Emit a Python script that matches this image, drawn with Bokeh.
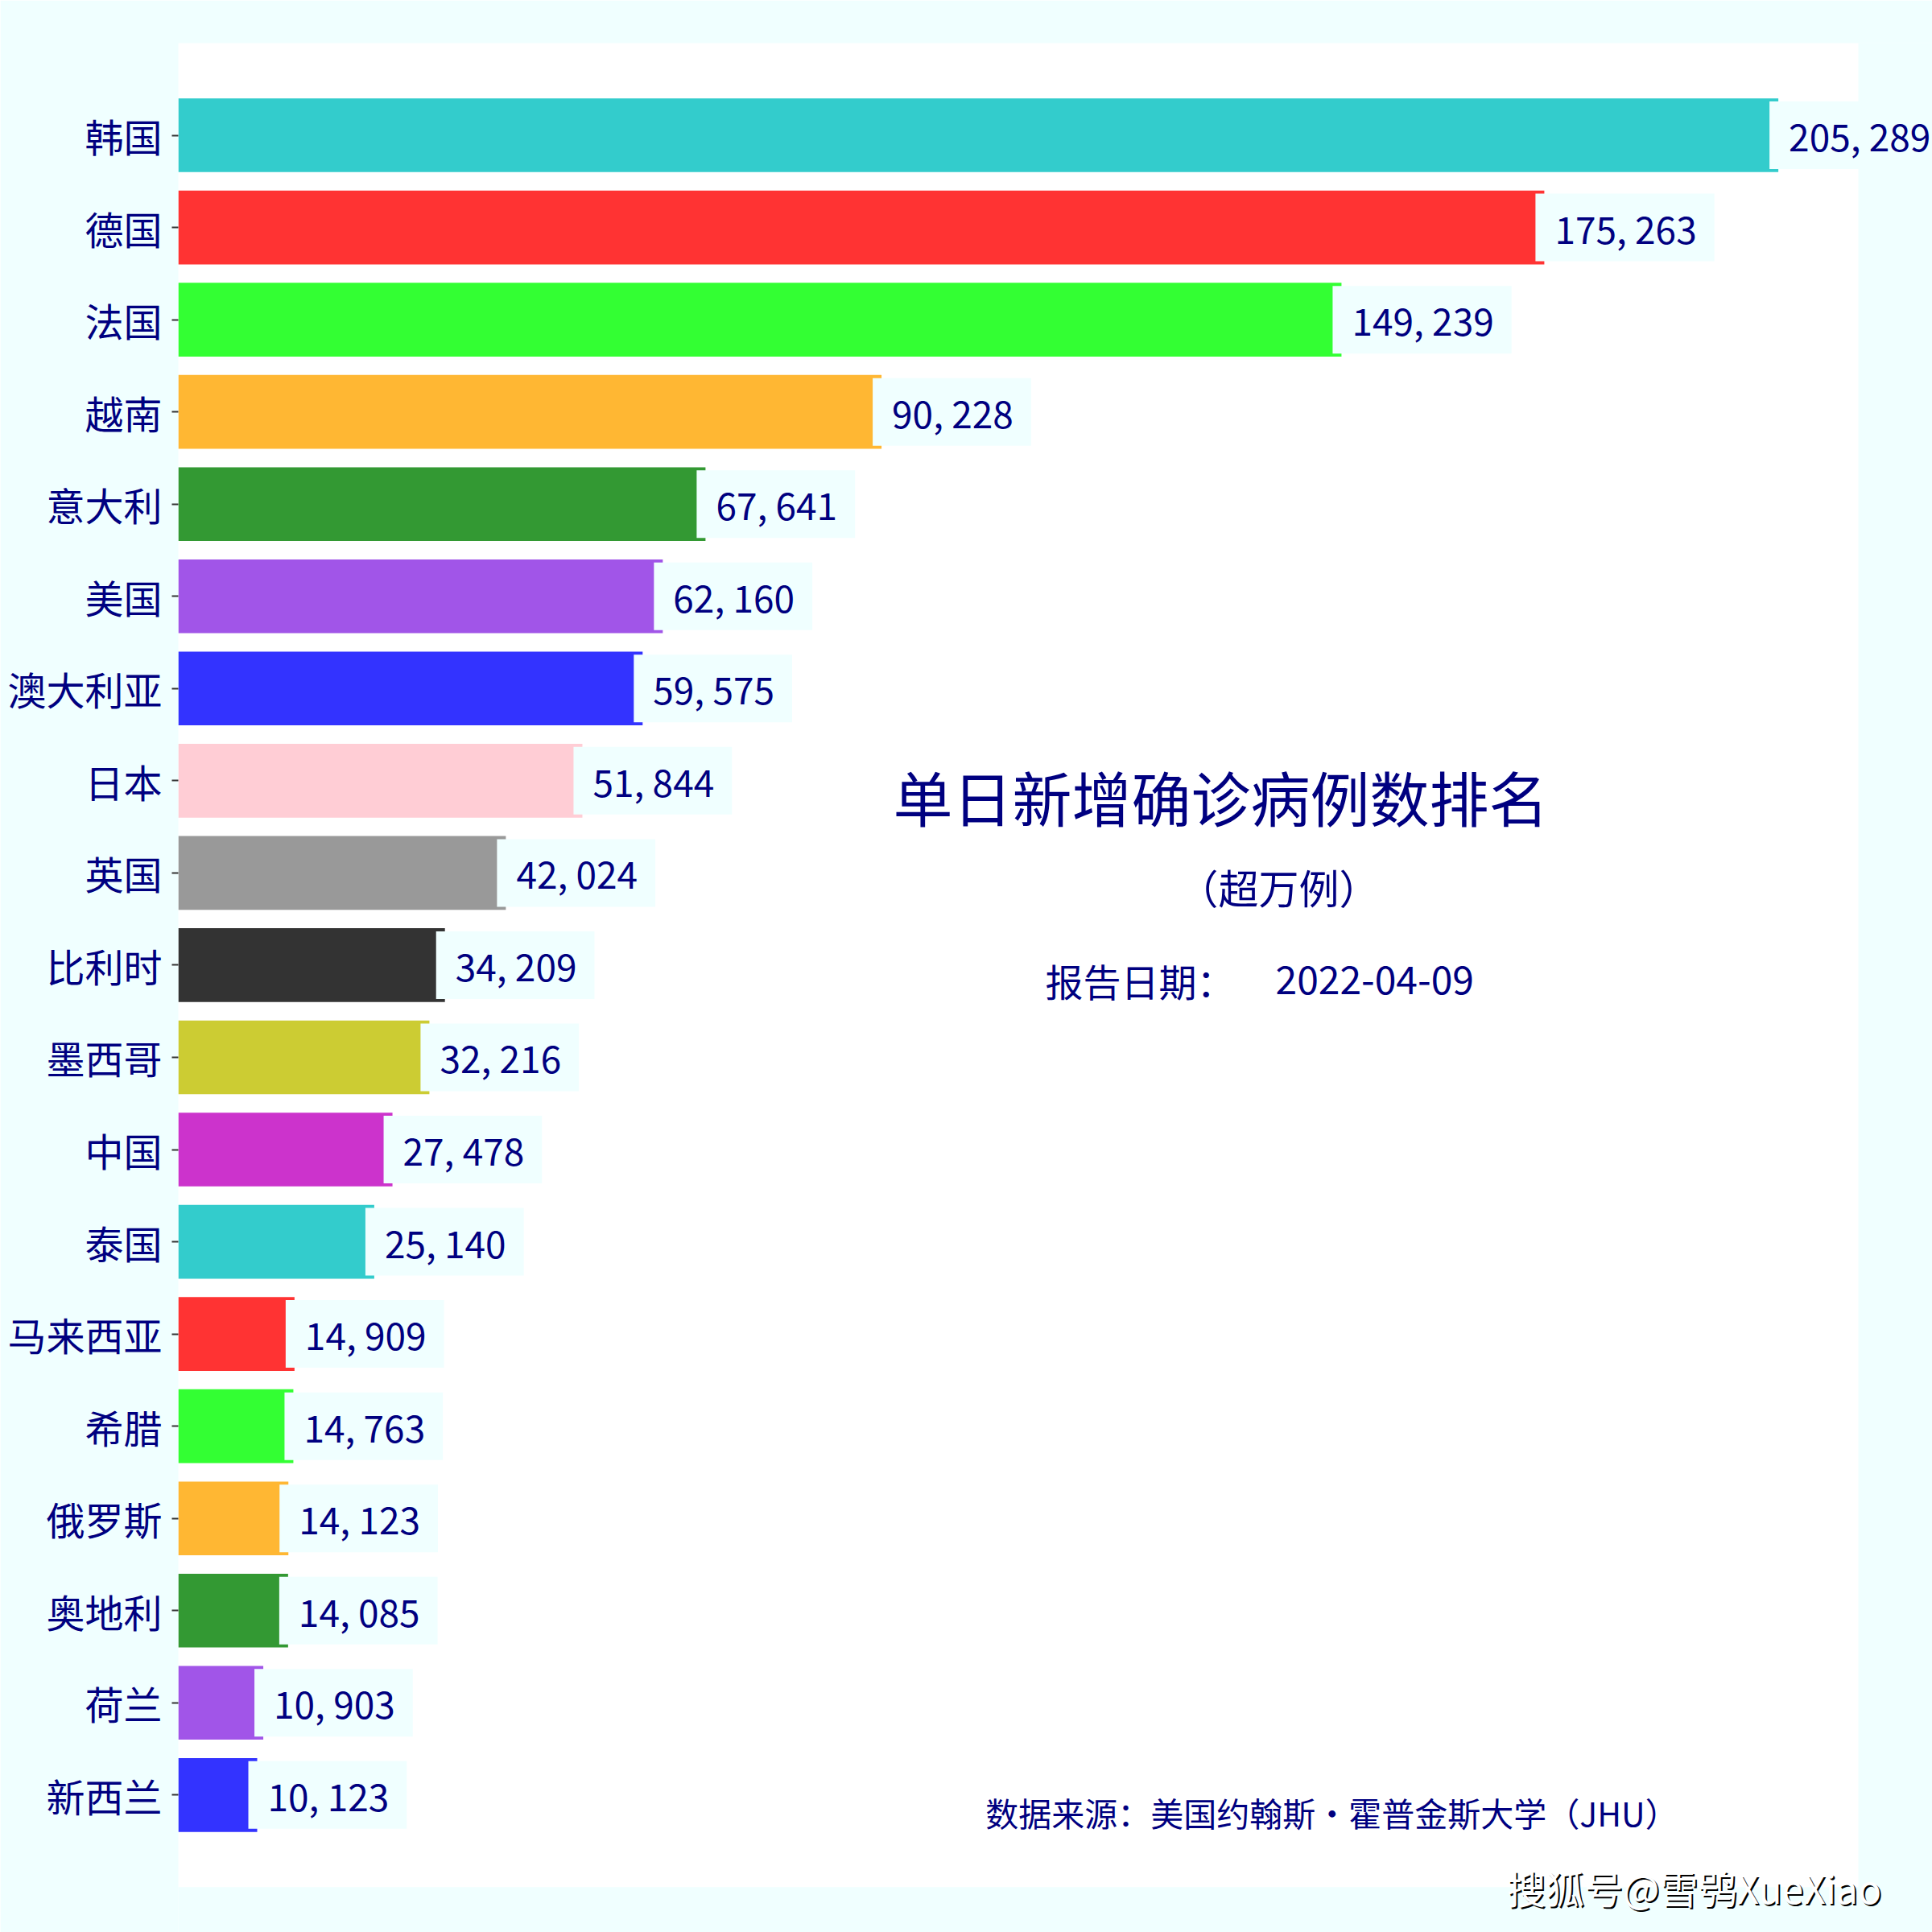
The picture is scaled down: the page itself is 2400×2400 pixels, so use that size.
from bokeh.plotting import figure
from bokeh.models import ColumnDataSource, Range1d, Label, BoxAnnotation, FixedTicker
from bokeh.core.properties import value
from bokeh.embed import file_html
from bokeh.resources import INLINE

countries = ["韩国", "德国", "法国", "越南", "意大利", "美国", "澳大利亚", "日本", "英国",
             "比利时", "墨西哥", "中国", "泰国", "马来西亚", "希腊", "俄罗斯", "奥地利", "荷兰", "新西兰"]
cases = [205289, 175263, 149239, 90228, 67641, 62160, 59575, 51844, 42024,
         34209, 32216, 27478, 25140, 14909, 14763, 14123, 14085, 10903, 10123]
title_text = "单日新增确诊病例数排名"
subtitle_text = "（超万例）"
date_label = "报告日期："
date_text = "2022-04-09"
source_text = "数据来源：美国约翰斯·霍普金斯大学（JHU）"
watermark_text = "搜狐号@雪鸮XueXiao"

palette = ["#33CCCC", "#FF3333", "#33FF33", "#FFB733", "#339933", "#A155E8",
           "#3333FF", "#FFCDD5", "#999999", "#333333", "#CCCC33", "#CC33CC"]

FONT = "Noto Sans CJK SC"
NAVY = "#000080"
AZURE = "#F0FFFF"

n = len(countries)
ypos = list(range(n - 1, -1, -1))          # first country at the top
labels = [f"{v:,}".replace(",", ", ") for v in cases]
colors = [palette[i % len(palette)] for i in range(n)]

src = ColumnDataSource(dict(y=ypos, country=countries, cases=cases, label=labels, color=colors))

xmax = max(cases) * 1.05                    # extent of the white plotting area
# frame runs to the right/bottom canvas edge so that labels are not clipped
p = figure(width=2400, height=2400, output_backend="svg", toolbar_location=None,
           x_range=Range1d(0, xmax * 2179 / 2087),
           y_range=Range1d(-1.49, n),
           min_border_left=221, min_border_right=0, min_border_top=53, min_border_bottom=0)

p.background_fill_color = AZURE
p.border_fill_color = AZURE
p.outline_line_color = None
p.xgrid.visible = False
p.ygrid.visible = False
p.xaxis.visible = False

p.add_layout(BoxAnnotation(left=0, right=xmax, bottom=-1.0, top=n, fill_color="white",
                           fill_alpha=1.0, line_color=None, level="underlay"))

ax = p.yaxis[0]
ax.ticker = FixedTicker(ticks=ypos)
ax.major_label_overrides = {y: c for y, c in zip(ypos, countries)}
ax.axis_line_color = None
ax.major_tick_line_color = "#333333"
ax.major_tick_line_width = 2
ax.major_tick_out = 8
ax.major_tick_in = 0
ax.minor_tick_line_color = None
ax.major_label_standoff = 12
ax.major_label_text_font = FONT
ax.major_label_text_font_size = "48px"
ax.major_label_text_color = NAVY

p.hbar(y="y", right="cases", left=0, height=0.8, color="color", line_color=None, source=src)

p.text(x="cases", y="y", text="label", source=src, x_offset=-11,
       text_align="left", text_baseline="middle", text_font=value(FONT), text_font_size="46px",
       text_color=NAVY, background_fill_color=AZURE,
       padding=dict(left=24, right=22, top=9, bottom=9))

def add_label(text, x, y, size, align="center", color=NAVY):
    lab = Label(x=x, y=y, x_units="screen", y_units="screen", text=text,
                text_font=FONT, text_font_size=size, text_color=color,
                text_align=align, text_baseline="middle")
    p.add_layout(lab)

add_label(title_text, 1295, 1412, "74px")
add_label(subtitle_text, 1367, 1300, "50px")
add_label(date_label, 1077, 1183, "47px", align="left")
add_label(date_text, 1363, 1183, "48px", align="left")
add_label(source_text, 1433, 150, "41px")
add_label(watermark_text, 1885, 55, "48px", color="black")
add_label(watermark_text, 1883, 57, "48px", color="white")

open("out.html", "w").write(file_html(p, INLINE))
